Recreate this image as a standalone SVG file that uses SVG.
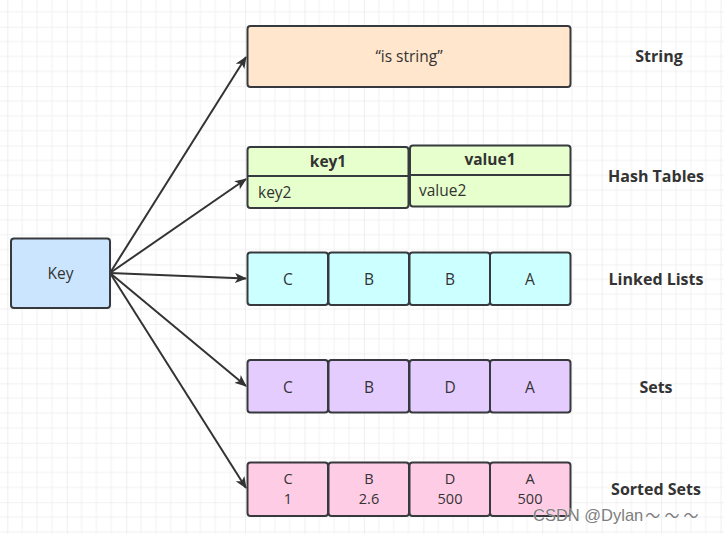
<svg xmlns="http://www.w3.org/2000/svg" width="724" height="534" viewBox="0 0 724 534">
<style>
.box{stroke:#36393d;stroke-width:2}
.t{font-family:"Open Sans","Noto Sans","Liberation Sans",sans-serif;font-size:15.5px;fill:#333;text-anchor:middle}
.t2{font-family:"Open Sans","Noto Sans","Liberation Sans",sans-serif;font-size:14.5px;fill:#333;text-anchor:middle}
.tl{font-family:"Open Sans","Noto Sans","Liberation Sans",sans-serif;font-size:15.5px;fill:#333}
.hb{font-family:"Open Sans","Noto Sans","Liberation Sans",sans-serif;font-size:15.5px;fill:#333;text-anchor:middle;font-weight:bold}
.lab{font-family:"Open Sans","Noto Sans","Liberation Sans",sans-serif;font-size:16px;fill:#333;text-anchor:middle;font-weight:bold}
.conn{stroke:#333;stroke-width:2;fill:none;marker-end:url(#arr)}
.ls{fill:#ccffff}.ss{fill:#e5ccff}.zs{fill:#ffcce6}
</style>
<defs>
<pattern id="grid" patternUnits="userSpaceOnUse" x="7.3" y="26.7" width="59.44" height="59.44">
<path d="M14.86,0V59.44M29.72,0V59.44M44.58,0V59.44M0,14.86H59.44M0,29.72H59.44M0,44.58H59.44" stroke="#f1f1f1" stroke-width="1" fill="none"/>
<path d="M0,0V59.44M0,0H59.44" stroke="#e4e4e4" stroke-width="1.2" fill="none"/>
</pattern>
<marker id="arr" markerUnits="userSpaceOnUse" viewBox="0 0 12 10" refX="11" refY="5" markerWidth="12" markerHeight="10" orient="auto">
<path d="M0,0 L12,5 L0,10 L3,5 z" fill="#333"/>
</marker>
</defs>
<rect width="724" height="534" fill="#fff"/>
<rect width="724" height="534" fill="url(#grid)"/>

<g id="connectors">
<line class="conn" x1="110" y1="273" x2="246" y2="57"/>
<line class="conn" x1="110" y1="273" x2="246" y2="179"/>
<line class="conn" x1="110" y1="273" x2="246" y2="278.5"/>
<line class="conn" x1="110" y1="273" x2="246" y2="386"/>
<line class="conn" x1="110" y1="273" x2="246" y2="488"/>
</g>

<g id="key">
<rect class="box" x="11" y="238.5" width="99" height="69.5" rx="3" fill="#cce5ff"/>
<text class="t" x="60.5" y="278.5">Key</text>
</g>

<g id="string">
<rect class="box" x="247.5" y="26" width="323" height="61" rx="3" fill="#ffe6cc"/>
<text class="t" x="409" y="62">“is string”</text>
</g>

<g id="hash">
<rect class="box" x="247.5" y="147" width="161" height="61" rx="3" fill="#e6ffcc"/>
<line class="box" x1="247.5" y1="176" x2="408.5" y2="176"/>
<rect class="box" x="410" y="145.5" width="160.5" height="61" rx="3" fill="#e6ffcc"/>
<line class="box" x1="410" y1="175" x2="570.5" y2="175"/>
<text class="hb" x="328" y="166.5">key1</text>
<text class="hb" x="490" y="164.5">value1</text>
<text class="tl" x="258" y="197.5">key2</text>
<text class="tl" x="419" y="195.5">value2</text>
</g>

<g id="linkedlist">
<rect class="box ls" x="247.5" y="252.5" width="80.5" height="52.5" rx="3"/>
<rect class="box ls" x="328.5" y="252.5" width="80.5" height="52.5" rx="3"/>
<rect class="box ls" x="409.5" y="252.5" width="80.5" height="52.5" rx="3"/>
<rect class="box ls" x="490" y="252.5" width="80.5" height="52.5" rx="3"/>
<text class="t" x="288" y="284.5">C</text>
<text class="t" x="369" y="284.5">B</text>
<text class="t" x="450" y="284.5">B</text>
<text class="t" x="530" y="284.5">A</text>
</g>

<g id="sets">
<rect class="box ss" x="247.5" y="360" width="80.5" height="52.5" rx="3"/>
<rect class="box ss" x="328.5" y="360" width="80.5" height="52.5" rx="3"/>
<rect class="box ss" x="409.5" y="360" width="80.5" height="52.5" rx="3"/>
<rect class="box ss" x="490" y="360" width="80.5" height="52.5" rx="3"/>
<text class="t" x="288" y="392.5">C</text>
<text class="t" x="369" y="392.5">B</text>
<text class="t" x="450" y="392.5">D</text>
<text class="t" x="530" y="392.5">A</text>
</g>

<g id="sortedsets">
<rect class="box zs" x="247.5" y="462.5" width="80.5" height="53.5" rx="3"/>
<rect class="box zs" x="328.5" y="462.5" width="80.5" height="53.5" rx="3"/>
<rect class="box zs" x="409.5" y="462.5" width="80.5" height="53.5" rx="3"/>
<rect class="box zs" x="490" y="462.5" width="80.5" height="53.5" rx="3"/>
<text class="t2" x="288" y="483.5">C</text><text class="t2" x="288" y="503.5">1</text>
<text class="t2" x="369" y="483.5">B</text><text class="t2" x="369" y="503.5">2.6</text>
<text class="t2" x="450" y="483.5">D</text><text class="t2" x="450" y="503.5">500</text>
<text class="t2" x="530" y="483.5">A</text><text class="t2" x="530" y="503.5">500</text>
</g>

<g id="labels">
<text class="lab" x="659" y="61.5">String</text>
<text class="lab" x="656" y="181.5">Hash Tables</text>
<text class="lab" x="656" y="284.5">Linked Lists</text>
<text class="lab" x="656" y="392.5">Sets</text>
<text class="lab" x="656" y="494.5">Sorted Sets</text>
</g>

<text x="533" y="521" font-family="'Liberation Sans','Noto Sans CJK SC',sans-serif" font-size="16.5" fill="#7d7d7d" stroke="#fff" stroke-width="0.5" paint-order="stroke">CSDN @Dylan<tspan font-size="15" dx="2">～ ～ ～</tspan></text>
</svg>
